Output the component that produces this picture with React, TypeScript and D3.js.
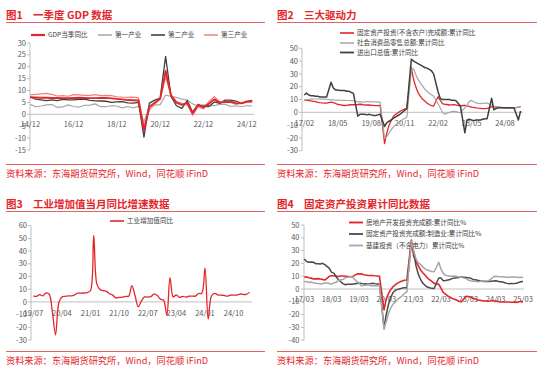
import * as d3 from 'd3'

const FONT = '"Noto Sans CJK SC","Noto Sans",sans-serif'
const RED = '#e3262b'
const DARK = '#404040'
const LIGHT = '#a6a6a6'
const SALMON = '#f27f7f'
const AXIS = '#bfbfbf'
const LABEL = '#595959'
const RULE = '#e46464'
const SOURCE = '资料来源：东海期货研究所，Wind，同花顺 iFinD'

type V = number | null

// 图1 — quarterly, 2014Q4 .. 2025Q1
const fig1Ticks = ['14/12', '16/12', '18/12', '20/12', '22/12', '24/12']
const gdp = [7.2, 7.1, 7.0, 7.0, 6.9, 6.9, 6.8, 6.8, 6.9, 7.0, 6.9, 6.8, 6.8, 6.9, 6.9, 6.7, 6.5,
  6.3, 6.0, 5.9, 5.8, -6.8, 3.2, 4.9, 6.5, 18.3, 7.9, 4.9, 4.0, 4.8, 0.4, 3.9, 2.9,
  4.5, 6.3, 4.9, 5.2, 5.3, 4.7, 4.6, 5.4, 5.4]
const primary = [4.2, 3.2, 3.5, 4.0, 4.1, 2.9, 3.1, 4.0, 3.3, 3.0, 3.8, 3.9, 4.4, 3.2, 3.2, 3.6, 3.5,
  2.7, 3.3, 2.7, 3.4, -3.2, 3.3, 3.9, 4.1, 8.1, 7.6, 7.1, 6.4, 6.0, 4.4, 3.4, 4.0,
  3.7, 3.7, 4.2, 4.2, 3.3, 3.6, 3.2, 3.7, 3.5]
const secondary = [7.3, 6.4, 6.1, 5.8, 6.1, 5.8, 6.3, 6.1, 6.1, 6.3, 6.4, 5.9, 5.7, 5.6, 5.5, 5.0, 5.2,
  5.3, 4.8, 4.7, 5.0, -9.6, 4.7, 6.0, 6.8, 24.4, 7.5, 3.6, 2.5, 5.8, 0.9, 4.2, 3.4,
  3.3, 5.2, 4.6, 6.0, 6.0, 5.6, 4.6, 5.3, 5.9]
const tertiary = [8.2, 8.4, 8.6, 8.8, 8.4, 7.7, 7.9, 7.6, 8.3, 8.2, 8.0, 8.0, 8.3, 7.9, 8.0, 7.9, 7.4,
  7.2, 7.1, 7.2, 6.9, -5.2, 1.9, 4.3, 6.7, 15.6, 8.3, 5.4, 4.6, 4.0, -0.4, 3.2, 2.3,
  5.4, 7.4, 5.2, 5.3, 5.0, 4.2, 4.8, 5.0, 5.3]

// 图2 — monthly cumulative, 2017-02 .. 2025-03 (no January prints)
const fig2Ticks = ['17/02', '18/05', '19/08', '20/11', '22/02', '23/05', '24/08']
const faiYoY: V[] = [
  9.6, 9.5, 9.2, 8.9, 8.6, 8.3, 7.8, 7.5, 7.3, 7.2, 7.2,
  null, 7.9, 7.5, 7.0, 6.1, 6.0, 5.5, 5.3, 5.4, 5.7, 5.9, 5.9,
  null, 6.1, 6.3, 6.1, 5.6, 5.8, 5.7, 5.5, 5.4, 5.2, 5.2, 5.4,
  null, -24.5, -16.1, -10.3, -6.3, -3.1, -1.6, -0.3, 0.8, 1.8, 2.6, 2.9,
  null, 35.0, 25.6, 19.9, 15.4, 12.6, 10.3, 8.9, 7.3, 6.1, 5.2, 4.9,
  null, 12.2, 9.3, 6.8, 6.2, 6.1, 5.7, 5.8, 5.9, 5.8, 5.3, 5.1,
  null, 5.5, 5.1, 4.7, 4.0, 3.8, 3.4, 3.2, 3.1, 2.9, 2.9, 3.0,
  null, 4.2, 4.5, 4.2, 4.0, 3.9, 3.6, 3.4, 3.4, 3.4, 3.3, 3.2,
  null, 4.1, 4.2,
]
const retailYoY: V[] = [
  9.5, 10.0, 10.2, 10.3, 10.4, 10.4, 10.4, 10.4, 10.3, 10.3, 10.2,
  null, 9.7, 9.8, 9.4, 9.5, 9.4, 9.3, 9.3, 9.2, 9.2, 9.1, 9.0,
  null, 8.2, 8.3, 8.0, 8.1, 8.4, 8.3, 8.2, 8.2, 8.1, 8.0, 8.0,
  null, -20.5, -19.0, -16.2, -13.5, -11.4, -9.9, -8.6, -7.2, -5.9, -4.8, -3.9,
  null, 33.8, 33.9, 29.6, 25.7, 23.0, 20.7, 18.1, 16.4, 14.9, 13.7, 12.5,
  null, 6.7, 3.3, -0.2, -1.5, -0.7, -0.2, 0.5, 0.7, 0.6, -0.1, -0.2,
  null, 3.5, 5.8, 8.5, 9.3, 8.2, 7.3, 7.0, 6.8, 6.9, 7.2, 7.2,
  null, 5.5, 4.7, 4.1, 4.1, 3.7, 3.5, 3.4, 3.3, 3.5, 3.5, 3.5,
  null, 4.0, 4.6,
]
const tradeYoY: V[] = [
  13.5, 15.0, 13.5, 13.0, 13.0, 12.5, 12.5, 12.0, 12.0, 12.0, 12.0,
  null, 23.5, 19.0, 17.5, 17.5, 17.0, 17.0, 17.0, 16.5, 16.5, 15.5, 15.0,
  null, -3.0, -1.5, -1.5, -1.5, -2.0, -1.5, -2.0, -2.5, -2.5, -2.0, -1.5,
  null, -11.0, -8.0, -7.0, -6.0, -4.5, -3.5, -2.5, -1.5, 0.0, 1.5, 3.0,
  null, 41.5, 40.0, 39.0, 38.0, 37.0, 36.0, 35.0, 34.5, 33.5, 32.5, 30.0,
  null, 15.9, 10.7, 10.0, 10.0, 10.0, 10.0, 9.5, 9.5, 9.0, 7.0, 5.0,
  null, -16.0, -6.0, -5.5, -6.0, -6.5, -6.0, -6.0, -6.0, -5.5, -5.0, -5.0,
  null, 11.0, 2.0, 3.0, 3.5, 3.5, 3.5, 3.5, 3.5, 3.5, 3.5, 3.5,
  null, -6.0, 1.0,
]

// 图3 — monthly, 2019-07 .. 2025-03
const fig3Ticks = ['19/07', '20/04', '21/01', '21/10', '22/07', '23/04', '24/01', '24/10']
const ipYoY: V[] = [
  4.8, 4.4, 5.8, 4.7, 7.0, 6.0,
  -8.0, -25.9, -1.1, 3.9, 4.4, 4.8, 4.8, 5.6, 6.9, 6.9, 7.0, 7.3,
  9.0, 52.3, 14.0, 9.8, 8.8, 8.3, 6.4, 5.3, 3.1, 3.5, 3.8, 4.3,
  4.5, 12.8, 5.0, -3.8, 0.7, 3.9, 3.8, 4.2, 6.3, 5.0, 2.2, 1.3,
  -10.5, 19.0, 3.9, 5.6, 3.5, 4.4, 3.7, 4.5, 4.5, 4.6, 6.6, 6.8,
  26.5, -13.5, 4.5, 6.7, 5.6, 5.3, 5.1, 4.5, 5.4, 5.3, 5.4, 6.2,
  5.9, 5.9, 7.7,
]

// 图4 — monthly cumulative, 2017-03 .. 2025-03
const fig4Ticks = ['17/03', '18/03', '19/03', '20/03', '21/03', '22/03', '23/03', '24/03', '25/03']
const realEstate: V[] = [
  9.6, 9.3, 8.8, 8.5, 7.9, 7.9, 8.1, 7.8, 7.5, 7.0,
  null, 9.9, 10.4, 10.3, 10.2, 9.7, 10.2, 10.1, 9.9, 9.7, 9.7, 9.5,
  null, 11.6, 11.8, 11.9, 11.2, 10.9, 10.6, 10.5, 10.5, 10.3, 10.2, 9.9,
  null, -16.3, -7.7, -3.3, -0.3, 1.9, 3.4, 4.6, 5.6, 6.3, 6.8, 7.0,
  null, 38.3, 25.6, 21.6, 18.3, 15.0, 12.7, 10.9, 8.8, 7.2, 6.0, 4.4,
  null, 3.7, 0.7, -2.7, -4.0, -5.4, -6.4, -7.4, -8.0, -8.8, -9.8, -10.0,
  null, -5.7, -5.8, -6.2, -7.2, -7.9, -8.5, -8.8, -9.1, -9.3, -9.4, -9.6,
  null, -9.0, -9.5, -9.8, -10.1, -10.1, -10.2, -10.2, -10.1, -10.3, -10.4, -10.6,
  null, -9.8, -9.9,
]
const mfgFai: V[] = [
  23.5, 21.5, 20.9, 21.1, 20.9, 19.8, 19.8, 19.6, 20.1, 19.0,
  null, 16.1, 13.0, 12.4, 9.4, 7.3, 5.7, 4.2, 3.3, 3.7, 3.7, 3.8,
  null, 4.3, 4.4, 4.4, 4.0, 4.1, 3.8, 4.2, 4.5, 4.2, 4.0, 3.8,
  null, -30.3, -19.7, -11.8, -6.3, -2.7, -1.0, -0.3, 0.2, 0.7, 1.0, 0.9,
  null, 36.6, 29.7, 18.4, 11.8, 7.8, 4.6, 2.9, 1.5, 1.0, 0.5, 0.4,
  null, 8.6, 8.5, 6.5, 6.7, 7.1, 7.4, 8.3, 8.6, 8.7, 8.9, 9.4,
  null, 9.0, 8.8, 8.5, 7.5, 7.2, 6.8, 6.4, 6.2, 5.9, 5.8, 5.9,
  null, 6.3, 6.5, 6.0, 5.7, 5.4, 4.9, 4.4, 4.1, 4.3, 4.2, 4.4,
  null, 5.6, 5.8,
]
const infraFai: V[] = [
  5.8, 5.6, 5.1, 5.5, 4.8, 4.5, 4.2, 4.1, 4.1, 4.8,
  null, 4.3, 3.8, 4.8, 5.2, 6.8, 7.3, 7.5, 8.7, 9.1, 9.5, 9.5,
  null, 5.9, 4.6, 2.5, 2.7, 3.0, 3.3, 2.6, 2.5, 2.6, 2.5, 3.1,
  null, -31.5, -25.2, -18.8, -14.8, -11.7, -10.2, -8.1, -6.5, -5.3, -3.5, -2.2,
  null, 37.3, 29.8, 23.8, 20.4, 19.2, 17.3, 15.7, 14.8, 14.2, 13.7, 13.5,
  null, 20.9, 15.6, 12.2, 10.6, 10.4, 9.9, 10.0, 10.1, 9.7, 9.3, 9.1,
  null, 8.1, 7.0, 6.4, 6.0, 6.0, 5.7, 5.9, 6.2, 6.2, 6.3, 6.5,
  null, 9.4, 9.9, 9.7, 9.6, 9.5, 9.3, 9.1, 9.2, 9.3, 9.3, 9.2,
  null, 9.0, 9.1,
]

interface Series {
  name: string
  values: V[]
  color: string
  width: number
}

interface ChartProps {
  series: Series[]
  x0: number
  x1: number
  axisX: number
  axisEnd: number
  yTop: number
  yBottom: number
  yMin: number
  yMax: number
  yStep: number
  ticks: string[]
  tickEvery: number
  labelRight: number
  xLabelY: number
  curve?: d3.CurveFactory
}

function LineChart(p: ChartProps) {
  const n = p.series[0].values.length
  const x = d3.scaleLinear().domain([0, n - 1]).range([p.x0, p.x1])
  const y = d3.scaleLinear().domain([p.yMin, p.yMax]).range([p.yBottom, p.yTop])
  const yTicks = d3.range(p.yMin, p.yMax + p.yStep / 2, p.yStep)
  const line = d3
    .line<[number, number]>()
    .x((d) => x(d[0]))
    .y((d) => y(d[1]))
    .curve(p.curve ?? d3.curveLinear)

  return (
    <g>
      {/* y axis */}
      <line x1={p.axisX} x2={p.axisX} y1={y(p.yMax)} y2={y(p.yMin)} stroke={AXIS} strokeWidth={1} />
      {yTicks.map((t) => (
        <g key={t}>
          <line x1={p.axisX - 3} x2={p.axisX} y1={y(t)} y2={y(t)} stroke={AXIS} strokeWidth={1} />
          <text x={p.labelRight} y={y(t) + 2.6} textAnchor="end" fontSize={7.5} fill={LABEL} fontFamily={FONT}>
            {t}
          </text>
        </g>
      ))}
      {/* x axis on zero */}
      <line x1={p.axisX} x2={p.axisEnd} y1={y(0)} y2={y(0)} stroke={AXIS} strokeWidth={1} />
      {p.ticks.map((lab, i) => (
        <text
          key={lab}
          x={x(i * p.tickEvery)}
          y={p.xLabelY}
          textAnchor="middle"
          fontSize={7.5}
          fill={LABEL}
          fontFamily={FONT}
        >
          {lab}
        </text>
      ))}
      {p.series.map((s) => {
        const pts = s.values
          .map((v, i) => [i, v] as [number, V])
          .filter((d): d is [number, number] => d[1] !== null)
        return (
          <path
            key={s.name}
            d={line(pts) ?? ''}
            fill="none"
            stroke={s.color}
            strokeWidth={s.width}
            strokeLinejoin="round"
          />
        )
      })}
    </g>
  )
}

interface FrameProps {
  left: number
  right: number
  textX: number
  top: number
  bottom: number
  fig: string
  title: string
}

function Frame({ left, right, textX, top, bottom, fig, title }: FrameProps) {
  return (
    <g fontFamily={FONT}>
      <text x={left} y={top} fontSize={10.5} fontWeight={700} fill={RED}>
        {fig}
      </text>
      <text x={textX} y={top} fontSize={10.5} fontWeight={700} fill={RED}>
        {title}
      </text>
      <line x1={left} x2={right} y1={top + 3.5} y2={top + 3.5} stroke={RULE} strokeWidth={1.1} />
      <line x1={left} x2={right} y1={bottom} y2={bottom} stroke={RULE} strokeWidth={1.1} />
      <text x={left} y={bottom + 12} fontSize={9.2} fill={RED}>
        {SOURCE}
      </text>
    </g>
  )
}

function LegendItem({ x, y, s }: { x: number; y: number; s: Series }) {
  return (
    <g>
      <line x1={x} x2={x + 14} y1={y} y2={y} stroke={s.color} strokeWidth={s.width + 0.3} />
      <text x={x + 17} y={y + 2.4} fontSize={6.6} fill="#404040" fontFamily={FONT}>
        {s.name}
      </text>
    </g>
  )
}

const fig1Series: Series[] = [
  { name: '第一产业', values: primary, color: LIGHT, width: 1.2 },
  { name: '第二产业', values: secondary, color: DARK, width: 1.3 },
  { name: '第三产业', values: tertiary, color: SALMON, width: 1.2 },
  { name: 'GDP当季同比', values: gdp, color: RED, width: 1.9 },
]
const fig2Series: Series[] = [
  { name: '固定资产投资(不含农户)完成额:累计同比', values: faiYoY, color: RED, width: 1.3 },
  { name: '社会消费品零售总额:累计同比', values: retailYoY, color: LIGHT, width: 1.2 },
  { name: '进出口总值:累计同比', values: tradeYoY, color: DARK, width: 1.5 },
]
const fig3Series: Series[] = [{ name: '工业增加值同比', values: ipYoY, color: RED, width: 1.3 }]
const fig4Series: Series[] = [
  { name: '房地产开发投资完成额:累计同比%', values: realEstate, color: RED, width: 1.6 },
  { name: '固定资产投资完成额:制造业:累计同比%', values: mfgFai, color: '#4a4a4a', width: 1.5 },
  { name: '基建投资（不含电力）累计同比%', values: infraFai, color: LIGHT, width: 1.5 },
]

export default function App() {
  return (
    <div style={{ position: 'absolute', left: 0, top: 0 }}>
      <svg width={550} height={373} style={{ display: 'block', background: '#fff' }}>
        <Frame left={6} right={265} textX={33} top={19} bottom={164.5} fig="图1" title="一季度 GDP 数据" />
        <Frame left={277} right={537} textX={304} top={19} bottom={164.5} fig="图2" title="三大驱动力" />
        <Frame left={6} right={265} textX={33} top={208} bottom={351.5} fig="图3" title="工业增加值当月同比增速数据" />
        <Frame left={277} right={537} textX={304} top={208} bottom={351.5} fig="图4" title="固定资产投资累计同比数据" />

        {/* 图1 */}
        <LegendItem x={31} y={35} s={fig1Series[3]} />
        <LegendItem x={98} y={35} s={fig1Series[0]} />
        <LegendItem x={151} y={35} s={fig1Series[1]} />
        <LegendItem x={204} y={35} s={fig1Series[2]} />
        <LineChart
          series={fig1Series}
          x0={30.3}
          x1={252.2}
          axisX={30}
          axisEnd={254}
          yTop={43}
          yBottom={150}
          yMin={-15}
          yMax={30}
          yStep={5}
          ticks={fig1Ticks}
          tickEvery={8}
          labelRight={26}
          xLabelY={127}
        />

        {/* 图2 */}
        {fig2Series.map((s, i) => (
          <LegendItem key={s.name} x={340} y={[33, 43, 52.5][i]} s={s} />
        ))}
        <LineChart
          series={fig2Series}
          x0={304.3}
          x1={520.6}
          axisX={302}
          axisEnd={523}
          yTop={48.3}
          yBottom={150.7}
          yMin={-30}
          yMax={50}
          yStep={10}
          ticks={fig2Ticks}
          tickEvery={15}
          labelRight={298}
          xLabelY={125.5}
        />

        {/* 图3 */}
        <LegendItem x={110} y={221} s={fig3Series[0]} />
        <LineChart
          series={fig3Series}
          x0={33.3}
          x1={249.5}
          axisX={31}
          axisEnd={252}
          yTop={225.7}
          yBottom={340}
          yMin={-30}
          yMax={60}
          yStep={10}
          ticks={fig3Ticks}
          tickEvery={9}
          labelRight={27}
          xLabelY={315.5}
          curve={d3.curveCatmullRom.alpha(0.5)}
        />

        {/* 图4 */}
        {fig4Series.map((s, i) => (
          <LegendItem key={s.name} x={349} y={[222.5, 234, 245.5][i]} s={s} />
        ))}
        <LineChart
          series={fig4Series}
          x0={304.3}
          x1={523}
          axisX={304}
          axisEnd={524}
          yTop={225}
          yBottom={340.2}
          yMin={-40}
          yMax={50}
          yStep={10}
          ticks={fig4Ticks}
          tickEvery={12}
          labelRight={299.5}
          xLabelY={302}
        />
      </svg>
    </div>
  )
}
